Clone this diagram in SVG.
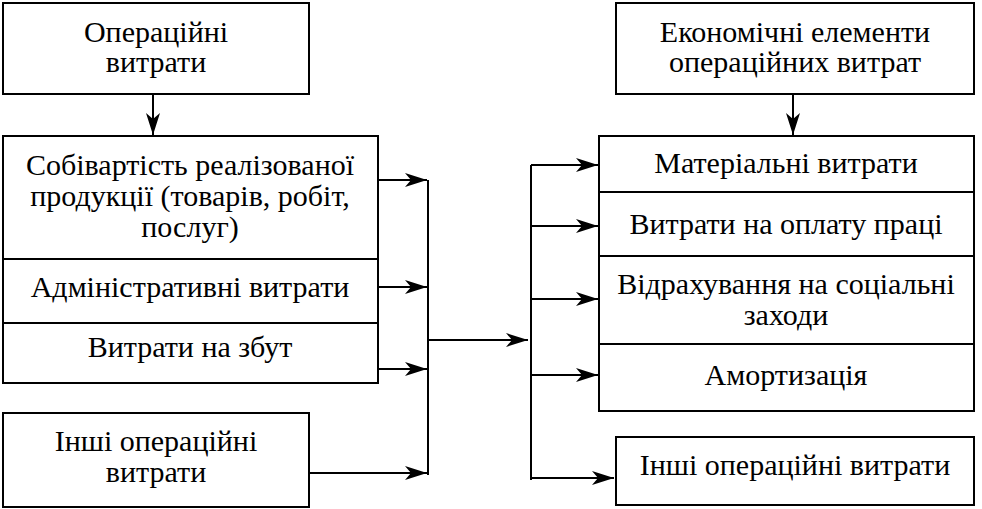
<svg xmlns="http://www.w3.org/2000/svg" width="982" height="509" viewBox="0 0 982 509">
<style>
.b{fill:#fff;stroke:#000;stroke-width:2}
.l{fill:none;stroke:#000;stroke-width:2}
</style>
<defs>
<marker id="a" markerUnits="userSpaceOnUse" markerWidth="24" markerHeight="16" refX="22" refY="8" orient="auto">
<path d="M0,1 L22,8 L0,15 L6,8 Z" fill="#000"/>
</marker>
</defs>
<rect width="982" height="509" fill="#fff"/>
<g id="n1"><rect class="b" x="3" y="3" width="306" height="91"/><text font-family="Liberation Serif" font-size="30" text-anchor="middle" x="156" y="42">Операційні</text><text font-family="Liberation Serif" font-size="30" text-anchor="middle" x="156" y="72">витрати</text></g>
<g id="n2"><rect class="b" x="3" y="136" width="375" height="247"/>
<line class="l" x1="3" y1="259" x2="378" y2="259"/><line class="l" x1="3" y1="323" x2="378" y2="323"/>
<text font-family="Liberation Serif" font-size="30" text-anchor="middle" x="190" y="175">Собівартість реалізованої</text><text font-family="Liberation Serif" font-size="30" text-anchor="middle" x="190" y="206">продукції (товарів, робіт,</text><text font-family="Liberation Serif" font-size="30" text-anchor="middle" x="190" y="237">послуг)</text>
<text font-family="Liberation Serif" font-size="30" text-anchor="middle" x="190" y="297">Адміністративні витрати</text>
<text font-family="Liberation Serif" font-size="30" text-anchor="middle" x="190" y="357">Витрати на збут</text></g>
<g id="n3"><rect class="b" x="3" y="413" width="306" height="94"/><text font-family="Liberation Serif" font-size="30" text-anchor="middle" x="156" y="451">Інші операційні</text><text font-family="Liberation Serif" font-size="30" text-anchor="middle" x="156" y="482">витрати</text></g>
<g id="n4"><rect class="b" x="616" y="3" width="358" height="91"/><text font-family="Liberation Serif" font-size="30" text-anchor="middle" x="795" y="42">Економічні елементи</text><text font-family="Liberation Serif" font-size="30" text-anchor="middle" x="795" y="72">операційних витрат</text></g>
<g id="n5"><rect class="b" x="599" y="136" width="375" height="275"/>
<line class="l" x1="599" y1="192" x2="974" y2="192"/><line class="l" x1="599" y1="256" x2="974" y2="256"/><line class="l" x1="599" y1="344" x2="974" y2="344"/>
<text font-family="Liberation Serif" font-size="30" text-anchor="middle" x="786" y="173">Матеріальні витрати</text>
<text font-family="Liberation Serif" font-size="30" text-anchor="middle" x="786" y="234">Витрати на оплату праці</text>
<text font-family="Liberation Serif" font-size="30" text-anchor="middle" x="786" y="294">Відрахування на соціальні</text><text font-family="Liberation Serif" font-size="30" text-anchor="middle" x="786" y="325">заходи</text>
<text font-family="Liberation Serif" font-size="30" text-anchor="middle" x="786" y="385">Амортизація</text></g>
<g id="n6"><rect class="b" x="616" y="437" width="358" height="68"/><text font-family="Liberation Serif" font-size="30" text-anchor="middle" x="795" y="475">Інші операційні витрати</text></g>
<g id="connectors">
<line class="l" x1="153" y1="94" x2="153" y2="135" marker-end="url(#a)"/>
<line class="l" x1="793" y1="94" x2="793" y2="135" marker-end="url(#a)"/>
<line class="l" x1="377" y1="180" x2="427" y2="180" marker-end="url(#a)"/>
<line class="l" x1="377" y1="287" x2="427" y2="287" marker-end="url(#a)"/>
<line class="l" x1="377" y1="369" x2="427" y2="369" marker-end="url(#a)"/>
<line class="l" x1="309" y1="473" x2="427" y2="473" marker-end="url(#a)"/>
<line class="l" x1="428" y1="180" x2="428" y2="475"/>
<line class="l" x1="428" y1="340" x2="528" y2="340" marker-end="url(#a)"/>
<line class="l" x1="531" y1="165" x2="531" y2="480"/>
<line class="l" x1="531" y1="165" x2="598" y2="165" marker-end="url(#a)"/>
<line class="l" x1="531" y1="226" x2="598" y2="226" marker-end="url(#a)"/>
<line class="l" x1="531" y1="299" x2="598" y2="299" marker-end="url(#a)"/>
<line class="l" x1="531" y1="375" x2="598" y2="375" marker-end="url(#a)"/>
<line class="l" x1="531" y1="478" x2="614" y2="478" marker-end="url(#a)"/>
</g>
</svg>
